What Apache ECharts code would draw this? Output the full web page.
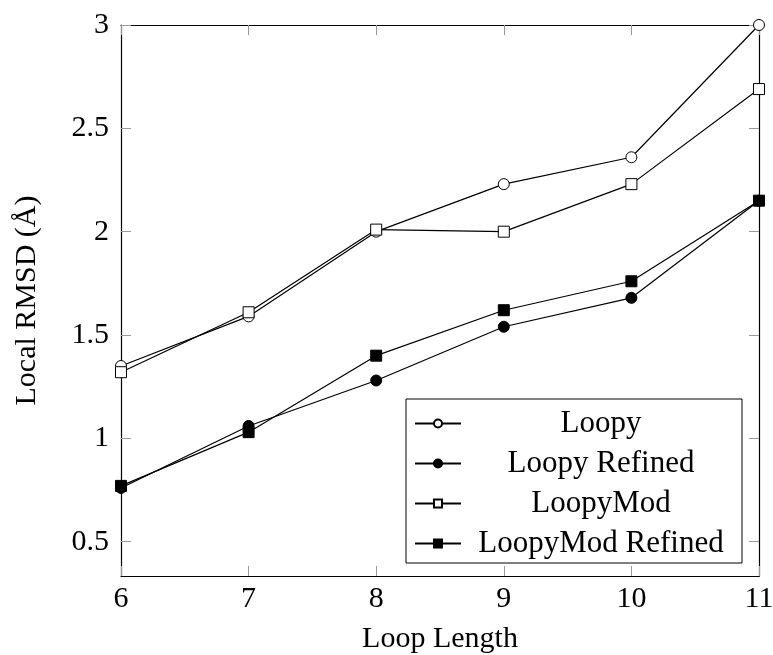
<!DOCTYPE html>
<html>
<head>
<meta charset="utf-8">
<script src="https://cdn.jsdelivr.net/npm/echarts@6/dist/echarts.min.js"></script>
<style>
  html, body { margin: 0; padding: 0; background: #fff; }
  #chart { width: 773px; height: 655px; }
</style>
</head>
<body>
<div id="chart"></div>
<script>
// Loop length on x, local RMSD on y
const loopLengths = [6, 7, 8, 9, 10, 11];
const loopy = [1.35, 1.59, 2.00, 2.23, 2.36, 3.00];
const loopyRefined = [0.76, 1.06, 1.28, 1.54, 1.68, 2.15];
const loopyMod = [1.32, 1.61, 2.01, 2.00, 2.23, 2.69];
const loopyModRefined = [0.77, 1.03, 1.40, 1.62, 1.76, 2.15];
const yTicks = [0.5, 1, 1.5, 2, 2.5, 3];

const FONT = 'Liberation Serif';
const pairs = (ys) => loopLengths.map((x, i) => [x, ys[i]]);

function makeSeries(name, ys, symbol, filled) {
  return {
    name: name,
    type: 'line',
    data: pairs(ys),
    symbol: symbol,
    symbolSize: 11,
    lineStyle: { color: '#000', width: 1.2 },
    itemStyle: { color: filled ? '#000' : '#fff', borderColor: '#000', borderWidth: 1 },
    emphasis: { disabled: true },
    animation: false
  };
}

const yMin = 0.334, yMax = 3.0;
const tickStyle = { inside: true, length: 10, lineStyle: { color: '#999' } };
const frameLine = { show: true, lineStyle: { color: '#000', width: 1.2 } };

const chart = echarts.init(document.getElementById('chart'));
chart.setOption({
  backgroundColor: '#fff',
  animation: false,
  grid: { left: 121, right: 14, top: 25, bottom: 79, containLabel: false, outerBoundsMode: 'none' },
  xAxis: [{
    type: 'value', min: 6, max: 11, interval: 1, position: 'bottom',
    name: 'Loop Length', nameLocation: 'middle', nameGap: 48,
    nameTextStyle: { fontFamily: FONT, fontSize: 30, color: '#000' },
    axisLine: frameLine,
    axisTick: tickStyle,
    axisLabel: { fontFamily: FONT, fontSize: 30, color: '#000', margin: 8 },
    splitLine: { show: false }
  }, {
    type: 'value', min: 6, max: 11, interval: 1, position: 'top',
    axisLine: frameLine,
    axisTick: tickStyle,
    axisLabel: { show: false },
    splitLine: { show: false }
  }],
  yAxis: [{
    type: 'value', min: yMin, max: yMax, position: 'left',
    name: 'Local RMSD (Å)', nameLocation: 'middle', nameGap: 79, nameRotate: 90,
    nameTextStyle: { fontFamily: FONT, fontSize: 30, color: '#000' },
    axisLine: frameLine,
    axisTick: Object.assign({ customValues: yTicks }, tickStyle),
    axisLabel: { fontFamily: FONT, fontSize: 30, color: '#000', margin: 12, customValues: yTicks },
    splitLine: { show: false }
  }, {
    type: 'value', min: yMin, max: yMax, position: 'right',
    axisLine: frameLine,
    axisTick: Object.assign({ customValues: yTicks }, tickStyle),
    axisLabel: { show: false },
    splitLine: { show: false }
  }],
  legend: {
    orient: 'vertical',
    left: 406, top: 399,
    padding: [9, 6, 4, 8],
    itemGap: 9,
    itemWidth: 46, itemHeight: 10,
    borderColor: '#000', borderWidth: 1,
    backgroundColor: '#fff',
    selectedMode: false,
    formatter: (name) => '{t|' + name + '}',
    textStyle: {
      rich: { t: { fontFamily: FONT, fontSize: 31, color: '#000', width: 270, align: 'center', lineHeight: 30 } }
    },
    data: ['Loopy', 'Loopy Refined', 'LoopyMod', 'LoopyMod Refined']
  },
  series: [
    makeSeries('Loopy', loopy, 'circle', false),
    makeSeries('Loopy Refined', loopyRefined, 'circle', true),
    makeSeries('LoopyMod', loopyMod, 'rect', false),
    makeSeries('LoopyMod Refined', loopyModRefined, 'rect', true)
  ]
});
</script>
</body>
</html>
